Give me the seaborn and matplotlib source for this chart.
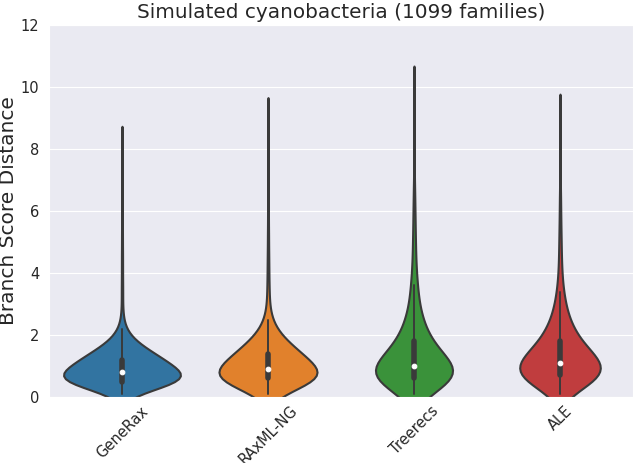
import numpy as np
import pandas as pd
import seaborn as sns
import matplotlib.pyplot as plt

methods = ["GeneRax", "RAxML-NG", "Treerecs", "ALE"]

# distance values (binned at 0.1) and how many families fall on each value
core_values = [0.1, 0.2, 0.3, 0.4, 0.5, 0.6, 0.7, 0.8, 0.9, 1.0,
               1.1, 1.2, 1.3, 1.4, 1.5, 1.6, 1.7, 1.8, 1.9, 2.0,
               2.1, 2.2, 2.3, 2.4, 2.5, 2.6, 2.7, 2.8, 2.9, 3.0]

generax_counts = [4, 12, 35, 85, 142, 110, 92, 78, 66, 66,
                  66, 70, 48, 44, 38, 30, 22, 16, 12, 9,
                  7, 5, 2, 2, 2, 2, 1, 1, 1, 1]
raxml_counts = [5, 14, 35, 68, 95, 100, 88, 76, 72, 62,
                58, 55, 52, 50, 42, 36, 30, 25, 20, 16,
                13, 10, 8, 6, 5, 4, 3, 3, 2, 2]
treerecs_counts = [6, 16, 34, 56, 76, 90, 78, 70, 64, 62,
                   50, 46, 42, 38, 34, 30, 26, 22, 21, 19,
                   17, 15, 14, 13, 12, 11, 10, 9, 8, 7]
ale_counts = [5, 14, 28, 44, 58, 66, 70, 72, 72, 66,
              55, 57, 52, 46, 40, 35, 31, 27, 25, 22,
              20, 18, 16, 14, 13, 12, 10, 9, 8, 7]

# long tail above 3
generax_tail = [3.3, 3.7, 4.2, 4.7, 5.3, 6.0, 6.6, 7.2, 7.7, 8.1]
generax_tail_counts = [4, 4, 4, 4, 4, 3, 3, 2, 1, 1]
raxml_tail = [3.3, 3.7, 4.2, 4.7, 5.3, 6.0, 6.7, 7.4, 8.1, 8.6, 8.9]
raxml_tail_counts = [7, 6, 6, 5, 5, 4, 4, 3, 2, 1, 1]
treerecs_tail = [3.3, 3.6, 4.0, 4.5, 5.0, 5.5, 6.0, 6.5, 7.0, 8.0, 9.0, 9.7]
treerecs_tail_counts = [20, 16, 14, 12, 10, 8, 7, 5, 4, 3, 2, 2]
ale_tail = [3.2, 3.4, 3.8, 4.2, 4.7, 5.2, 5.8, 6.5, 7.5, 8.5, 8.9]
ale_tail_counts = [15, 13, 12, 10, 9, 8, 7, 6, 4, 2, 1]

groups = [
    (generax_counts, generax_tail, generax_tail_counts),
    (raxml_counts, raxml_tail, raxml_tail_counts),
    (treerecs_counts, treerecs_tail, treerecs_tail_counts),
    (ale_counts, ale_tail, ale_tail_counts),
]

rows = []
for name, (counts, tail, tail_counts) in zip(methods, groups):
    vals = np.concatenate([np.repeat(core_values, counts), np.repeat(tail, tail_counts)])
    rows.append(pd.DataFrame({"method": name, "distance": vals}))
df = pd.concat(rows, ignore_index=True)

sns.set_style("darkgrid")
fig = plt.figure(figsize=(6.33, 4.63), dpi=100)
ax = fig.add_axes([0.0774, 0.1425, 0.9226, 0.8035])

sns.violinplot(data=df, x="method", y="distance", hue="method", palette="tab10",
               legend=False, linewidth=1.5, linecolor="#3a3a3a", bw_adjust=1.5,
               common_norm=True,
               inner_kws=dict(box_width=4, whis_width=1.4, marker="o"), ax=ax)

ax.set_ylim(0, 12)
ax.set_yticks([0, 2, 4, 6, 8, 10, 12])
ax.set_xlabel("")
ax.set_ylabel("Branch Score Distance", fontsize=14.5, labelpad=2)
ax.set_title("Simulated cyanobacteria (1099 families)", fontsize=14.4, pad=5)
ax.tick_params(axis="y", labelsize=10.5)
ax.tick_params(axis="x", labelsize=10.5, pad=1)
plt.setp(ax.get_xticklabels(), rotation=45)

fig.savefig("out.png", dpi=100)
